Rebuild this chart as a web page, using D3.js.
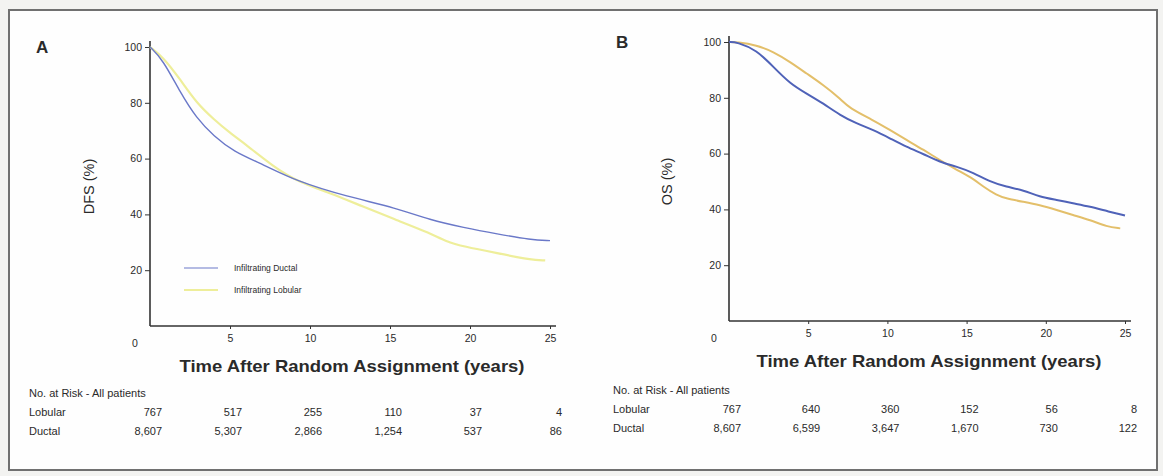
<!DOCTYPE html>
<html>
<head>
<meta charset="utf-8">
<script src="https://cdn.jsdelivr.net/npm/d3@7"></script>
<style>
  html, body { margin: 0; padding: 0; background: #f3f3f1; }
  svg { display: block; }
  text { font-family: "Liberation Sans", Arial, sans-serif; fill: #2a2a2a; }
</style>
</head>
<body>
<svg id="chart" width="1163" height="476"></svg>
<script>
// ---------------- DATA ----------------
const xTicks = [5, 10, 15, 20, 25];
const yTicks = [20, 40, 60, 80, 100];
const riskTimes = [0, 5, 10, 15, 20, 25];
const seriesNames = ["Infiltrating Ductal", "Infiltrating Lobular"];
const riskRowNames = ["Lobular", "Ductal"];

// Panel A: DFS (%)
const dfsDuctalT = [0, 0.8, 1.9, 2.9, 4.0, 5.2, 7.1, 9.2, 12.3, 15.4, 17.5, 19.6, 21.7, 23.8, 25.0];
const dfsDuctalV = [100, 95.5, 83.6, 74.5, 68, 62.6, 57.8, 51.8, 46.4, 42.3, 38, 35.3, 33, 30.9, 30.6];
const dfsLobularT = [0, 0.8, 1.9, 2.9, 4.0, 5.0, 6.0, 7.7, 9.2, 11.3, 13.3, 15.4, 17.5, 18.5, 19.6, 21.7, 23.8, 24.7];
const dfsLobularV = [100, 96.5, 88.3, 80, 74, 69.2, 65, 57.2, 51.8, 47.6, 42.8, 38, 33.3, 30.3, 28.5, 26.1, 23.7, 23.5];
const dfsRiskLobular = ["767", "517", "255", "110", "37", "4"];
const dfsRiskDuctal = ["8,607", "5,307", "2,866", "1,254", "537", "86"];

// Panel B: OS (%)
const osDuctalT = [0, 0.5, 1.75, 2.8, 3.85, 4.9, 5.95, 7.0, 8.05, 9.1, 10.15, 11.2, 12.3, 13.3, 14.4, 15.4, 16.5, 17.5, 18.6, 19.6, 20.7, 21.7, 22.8, 23.85, 25.0];
const osDuctalV = [100, 100, 97.1, 91.1, 85.1, 81.5, 78, 73.8, 70.8, 68.5, 65.5, 62.4, 59.8, 57, 55.3, 53.2, 49.9, 48.1, 46.9, 44.5, 43.4, 42.2, 41, 39.4, 37.8];
const osLobularT = [0, 0.5, 1.75, 2.8, 3.85, 4.9, 5.95, 7.0, 7.6, 9.1, 10.15, 11.2, 12.3, 13.3, 14.4, 15.4, 16.05, 16.9, 17.5, 18.6, 19.6, 20.7, 21.7, 22.8, 23.85, 24.7];
const osLobularV = [100, 100, 98.9, 96.5, 92.9, 88.7, 84.6, 79.8, 76.2, 72, 68.5, 64.9, 61.3, 57.7, 54.1, 51.1, 48.1, 45.1, 43.9, 42.7, 41.6, 39.8, 38, 36.2, 33.8, 33.2];
const osRiskLobular = ["767", "640", "360", "152", "56", "8"];
const osRiskDuctal = ["8,607", "6,599", "3,647", "1,670", "730", "122"];

// ---------------- DRAW ----------------
const svg = d3.select("#chart");

svg.append("rect")
  .attr("x", 9).attr("y", 10).attr("width", 1148).attr("height", 460)
  .attr("fill", "#fefefe").attr("stroke", "#707070").attr("stroke-width", 2);

function panel(cfg) {
  const g = svg.append("g");
  const x = d3.scaleLinear().domain([0, 25]).range([cfg.x0, cfg.x25]);
  const y = d3.scaleLinear().domain([0, 100]).range([cfg.y0, cfg.y100]);

  // axes
  const xAxis = d3.axisBottom(x).tickValues(xTicks).tickSize(3).tickPadding(6).tickSizeOuter(0);
  const xa = g.append("g").attr("transform", `translate(0,${cfg.y0})`).call(xAxis);
  xa.select(".domain").attr("d", `M${cfg.x0},0H${x(25) + 6}`);
  const yAxis = d3.axisLeft(y).tickValues(yTicks).tickSize(5).tickPadding(3).tickSizeOuter(0);
  const ya = g.append("g").attr("transform", `translate(${cfg.x0},0)`).call(yAxis);
  ya.select(".domain").attr("d", `M0,${cfg.y0}V${y(100) - 6}`);
  [xa, ya].forEach(a => {
    a.selectAll(".domain").attr("stroke", "#333").attr("stroke-width", 1.6);
    a.selectAll(".tick line").attr("stroke", "#333").attr("stroke-width", 1);
    a.selectAll(".tick text").attr("font-size", 10.5).attr("fill", "#333")
      .attr("font-family", "Liberation Sans, Arial, sans-serif");
  });
  // origin label
  g.append("text").attr("x", cfg.x0 - 15).attr("y", cfg.y0 + 21)
    .attr("text-anchor", "middle").attr("font-size", 10.5).text("0");

  // lines
  const line = d3.line().x(d => x(d[0])).y(d => y(d[1])).curve(d3.curveBasis);
  const dData = cfg.dT.map((t, i) => [t, cfg.dV[i]]);
  const lData = cfg.lT.map((t, i) => [t, cfg.lV[i]]);
  g.append("path").datum(lData).attr("d", line)
    .attr("fill", "none").attr("stroke", cfg.lColor).attr("stroke-width", cfg.lw);
  g.append("path").datum(dData).attr("d", line)
    .attr("fill", "none").attr("stroke", cfg.dColor).attr("stroke-width", cfg.dw);

  // panel letter
  g.append("text").attr("x", cfg.letterX).attr("y", cfg.letterY)
    .attr("font-size", 17).attr("font-weight", "bold").attr("fill", "#222").text(cfg.letter);

  // y label
  g.append("text")
    .attr("transform", `translate(${cfg.ylabX},${y(50)}) rotate(-90)`)
    .attr("text-anchor", "middle").attr("font-size", 14.5).attr("fill", "#333").text(cfg.ylab);

  // x label
  g.append("text").attr("x", (cfg.x0 + x(25)) / 2 + 2).attr("y", cfg.y0 + 46)
    .attr("text-anchor", "middle").attr("font-size", 17).attr("font-weight", "bold")
    .attr("fill", "#3a3a3a").attr("textLength", 345).attr("lengthAdjust", "spacingAndGlyphs")
    .text("Time After Random Assignment (years)");

  // risk table
  const rt = g.append("g");
  rt.append("text").attr("x", cfg.tableX).attr("y", cfg.tableY)
    .attr("font-size", 11).attr("fill", "#333").text("No. at Risk - All patients");
  [cfg.riskL, cfg.riskD].forEach((row, ri) => {
    const yy = cfg.tableY + 19 * (ri + 1);
    rt.append("text").attr("x", cfg.tableX).attr("y", yy)
      .attr("font-size", 11).attr("fill", "#333").text(riskRowNames[ri]);
    rt.selectAll(null).data(row).enter().append("text")
      .attr("x", (d, i) => x(riskTimes[i]) + 12).attr("y", yy)
      .attr("text-anchor", "end").attr("font-size", 11).attr("fill", "#333")
      .text(d => d);
  });

  // legend
  if (cfg.legend) {
    const lg = g.append("g");
    const cols = [cfg.dColor, cfg.lColor];
    seriesNames.forEach((n, i) => {
      const yy = cfg.legendY + 22 * i;
      lg.append("line").attr("x1", cfg.legendX).attr("x2", cfg.legendX + 34)
        .attr("y1", yy).attr("y2", yy).attr("stroke", cols[i]).attr("stroke-width", i ? 2 : 1.2);
      lg.append("text").attr("x", cfg.legendX + 50).attr("y", yy + 3)
        .attr("font-size", 8.5).attr("fill", "#444").text(n);
    });
  }
}

panel({
  x0: 150, x25: 550, y0: 326, y100: 47,
  dT: dfsDuctalT, dV: dfsDuctalV, lT: dfsLobularT, lV: dfsLobularV,
  dColor: "#6a78c8", lColor: "#eeee9a", dw: 1.4, lw: 2.2,
  letter: "A", letterX: 36, letterY: 53,
  ylab: "DFS (%)", ylabX: 94,
  tableX: 29, tableY: 397,
  riskL: dfsRiskLobular, riskD: dfsRiskDuctal,
  legend: true, legendX: 184, legendY: 268
});

panel({
  x0: 729, x25: 1125, y0: 321, y100: 42,
  dT: osDuctalT, dV: osDuctalV, lT: osLobularT, lV: osLobularV,
  dColor: "#4f62b8", lColor: "#e3bf6a", dw: 2, lw: 2,
  letter: "B", letterX: 616, letterY: 48,
  ylab: "OS (%)", ylabX: 672,
  tableX: 613, tableY: 394,
  riskL: osRiskLobular, riskD: osRiskDuctal,
  legend: false
});
</script>
</body>
</html>
